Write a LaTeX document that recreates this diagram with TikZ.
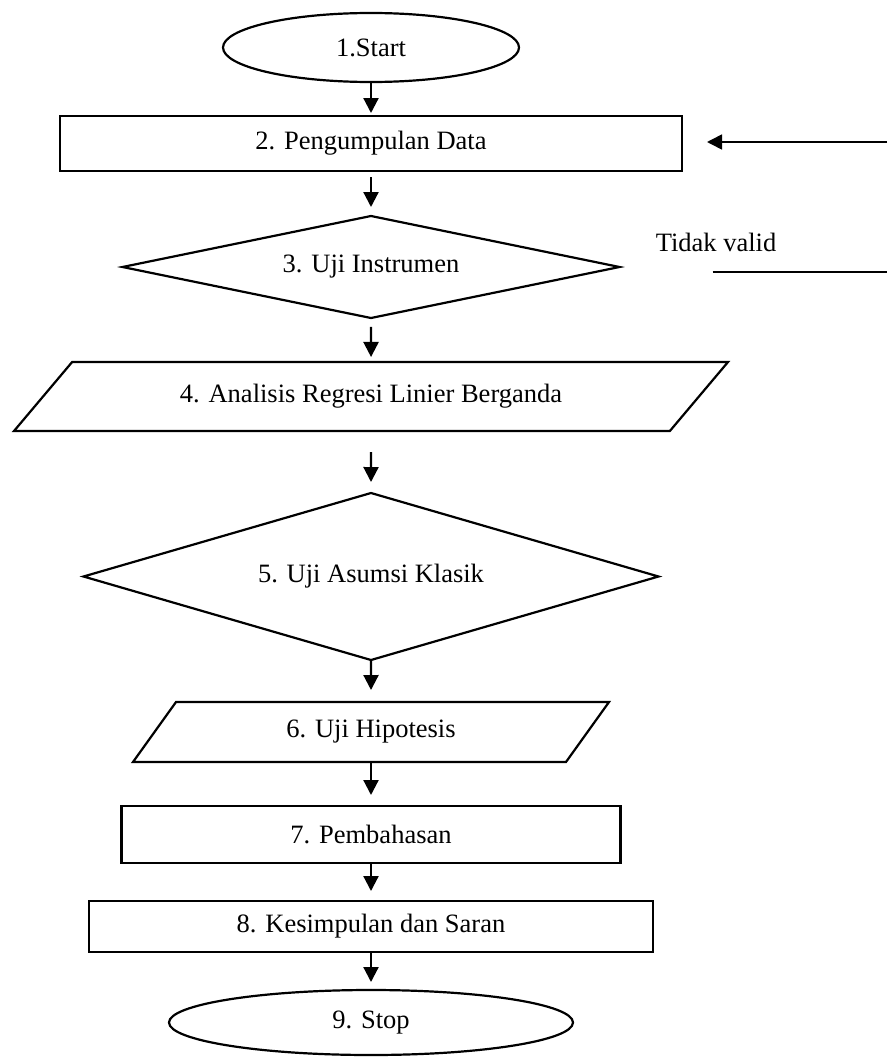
\documentclass[tikz,border=0pt]{standalone}
\usepackage{fontspec}
\setmainfont{Liberation Serif}
\usepackage{tikz}
\usetikzlibrary{shapes.geometric,arrows.meta}
\newcommand{\flowfont}{\fontsize{26.5}{30}\selectfont}
\tikzset{
  terminal/.style={ellipse, draw=black, line width=2.2pt, inner sep=0pt, outer sep=0pt,
    align=center, font=\flowfont},
  processbox/.style={rectangle, draw=black, line width=2.2pt, inner sep=0pt, outer sep=0pt,
    align=center, font=\flowfont},
  decisionbox/.style={diamond, draw=black, line width=2.2pt, inner sep=0pt, outer sep=0pt,
    align=center, font=\flowfont},
  iobox/.style={trapezium, trapezium stretches body, draw=black, line width=2.2pt,
    inner sep=2pt, outer sep=0pt, align=center, font=\flowfont},
  flowarrow/.style={-{Triangle[length=15pt,width=15pt]}, draw=black, line width=2.2pt},
  loopline/.style={draw=black, line width=1.6pt},
}

\begin{document}
\begin{tikzpicture}[x=1pt, y=-1pt]
  \useasboundingbox (0,0) rectangle (887,1057);

  % Main flow (top to bottom)
  \node[terminal, minimum width=296pt, minimum height=69pt] (start) at (371,47.5) {1.Start};
  \node[processbox, minimum width=622pt, minimum height=55pt] (data) at (371,143.5) {2. Pengumpulan Data};
  \node[decisionbox, aspect=4.87, minimum width=497pt, minimum height=102pt] (instrumen) at (371,267) {3. Uji Instrumen};
  \node[iobox, trapezium left angle=25.8, trapezium right angle=154.2,
    minimum width=714pt, minimum height=69pt] (regresi) at (371,396.5) {4. Analisis Regresi Linier Berganda};
  \node[decisionbox, aspect=3.44, minimum width=575pt, minimum height=167pt] (asumsi) at (371,576.5) {5. Uji Asumsi Klasik};
  \node[iobox, trapezium left angle=32.3, trapezium right angle=147.7,
    minimum width=476pt, minimum height=60pt] (hipotesis) at (371,732) {6. Uji Hipotesis};
  \node[processbox, minimum width=499pt, minimum height=57pt] (bahas) at (371,834.5) {7. Pembahasan};
  \node[processbox, minimum width=564pt, minimum height=51pt] (simpulan) at (371,926.5) {8. Kesimpulan dan Saran};
  \node[terminal, minimum width=404pt, minimum height=65pt] (stop) at (371,1022.5) {9. Stop};

  % Loop back (cut at the right edge)
  \coordinate (loopin) at (887,142);
  \coordinate (loopout) at (887,272);
  \node[font=\flowfont, anchor=base, inner sep=0pt] (tidak) at (716,251) {Tidak valid};

  % Arrows: main flow
  \draw[flowarrow, shorten >=3pt] (start) -- (data);
  \draw[flowarrow, shorten <=6pt, shorten >=9pt] (data) -- (instrumen);
  \draw[flowarrow, shorten <=9pt, shorten >=5pt] (instrumen) -- (regresi);
  \draw[flowarrow, shorten <=21pt, shorten >=11pt] (regresi) -- (asumsi);
  \draw[flowarrow, shorten >=12pt] (asumsi) -- (hipotesis);
  \draw[flowarrow, shorten >=11pt] (hipotesis) -- (bahas);
  \draw[flowarrow, shorten >=10pt] (bahas) -- (simpulan);
  \draw[flowarrow, shorten >=8pt] (simpulan) -- (stop);

  % Arrows: loop
  \draw[flowarrow, line width=1.6pt, shorten >=25pt] (loopin) -- (loopin -| data.east);
  \draw[loopline, shorten <=93pt] (instrumen.east |- loopout) -- (loopout);

\end{tikzpicture}
\end{document}
